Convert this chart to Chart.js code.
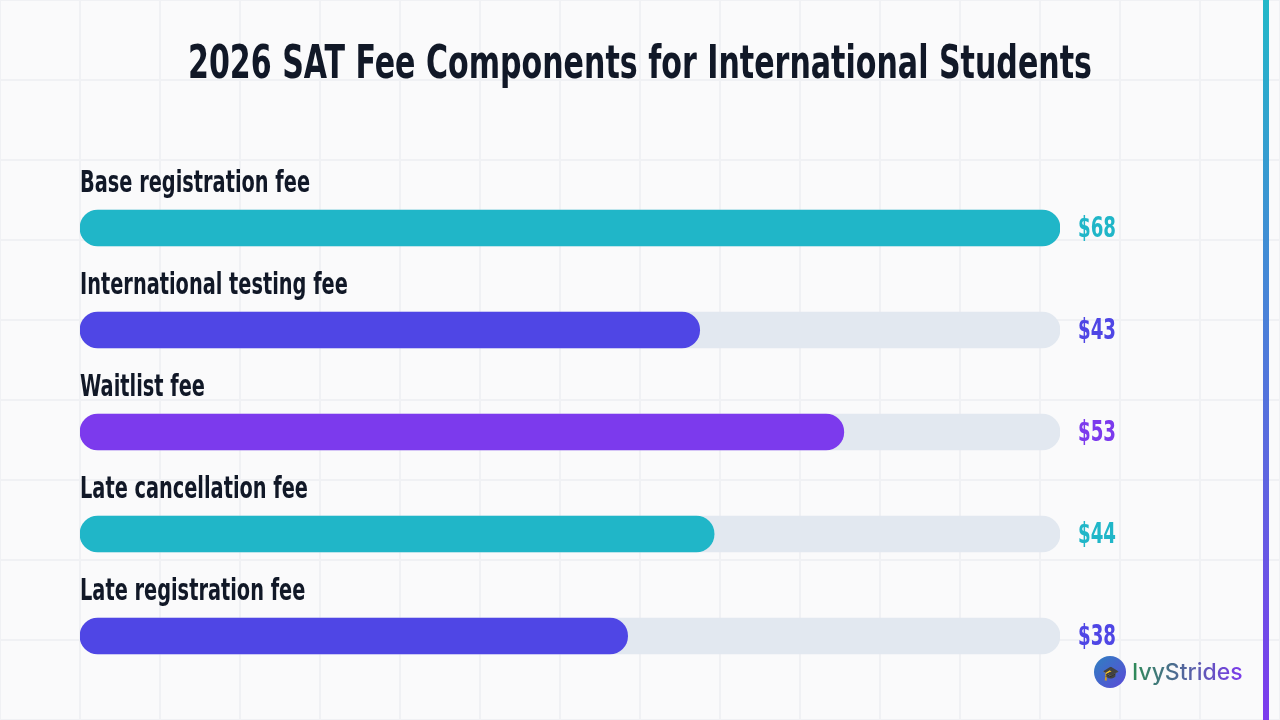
<!DOCTYPE html>
<html><head><meta charset="utf-8">
<script src="https://cdn.jsdelivr.net/npm/chart.js@4"></script>
<style>
html,body{margin:0;padding:0;}
body{width:1280px;height:720px;position:relative;overflow:hidden;background-color:#fafafb;
background-image:linear-gradient(#f0f1f4 2px,transparent 2px),linear-gradient(90deg,#f0f1f4 2px,transparent 2px);
background-size:80px 80px;background-position:-1px -1px;}
#edge{position:absolute;left:1263px;top:0;width:6px;height:720px;background:linear-gradient(#22b8c8,#7c3aed);}
#logo{position:absolute;left:1094px;top:656px;display:flex;align-items:center;font-family:Inter,sans-serif;font-size:23px;font-weight:500;}
#logo .c{width:32px;height:32px;border-radius:50%;background:linear-gradient(135deg,#2f80c0,#5b4ad8);margin-right:6px;color:#fff;font-size:14px;display:flex;align-items:center;justify-content:center;}
#logo .t{background:linear-gradient(90deg,#2e8b57,#7c3aed);-webkit-background-clip:text;color:transparent;}
canvas{position:absolute;left:0;top:0;}
</style></head><body>
<div id="edge"></div>
<canvas id="c" width="1280" height="720"></canvas>
<div id="logo"><div class="c">🎓</div><span class="t">IvyStrides</span></div>
<script>
const title="2026 SAT Fee Components for International Students";
const categories=["Base registration fee","International testing fee","Waitlist fee","Late cancellation fee","Late registration fee"];
const values=[68,43,53,44,38];
const colors=["#20b6c8","#4f46e5","#7c3aed","#20b6c8","#4f46e5"];
const maxValue=68;
const F='"DejaVu Sans Condensed","DejaVu Sans",sans-serif';
function squeezed(ctx,text,x,y,sx){ctx.save();ctx.translate(x,y);ctx.scale(sx,1);ctx.fillText(text,0,0);ctx.restore();}
const labelPlugin={id:'lbl',afterDatasetsDraw(chart){
 const ctx=chart.ctx,ys=chart.scales.y,xs=chart.scales.x;
 ctx.save();
 ctx.font='bold 46px '+F;ctx.fillStyle='#111827';ctx.textAlign='left';ctx.textBaseline='alphabetic';
 const tw=ctx.measureText(title).width,ts=904/tw;
 squeezed(ctx,title,640-452,78,ts);
 ctx.font='bold 31px '+F;
 const ls=230/ctx.measureText(categories[0]).width;
 ctx.font='bold 29px '+F;
 const vs=38/ctx.measureText('$68').width;
 categories.forEach((c,i)=>{
  const y=ys.getPixelForValue(i);
  ctx.font='bold 31px '+F;ctx.fillStyle='#111827';ctx.textBaseline='alphabetic';
  squeezed(ctx,c,xs.left,y-36,ls);
  ctx.fillStyle=colors[i];ctx.font='bold 29px '+F;ctx.textBaseline='middle';
  squeezed(ctx,'$'+values[i],xs.getPixelForValue(maxValue)+18,y+1,vs);
 });
 ctx.restore();}};
new Chart(document.getElementById('c'),{type:'bar',
data:{labels:categories,datasets:[
 {data:values,backgroundColor:colors,barThickness:36,borderRadius:18,borderSkipped:false,grouped:false,order:0},
 {data:categories.map(()=>maxValue),backgroundColor:'#e2e8f0',barThickness:36,borderRadius:18,borderSkipped:false,grouped:false,order:1}
]},
options:{indexAxis:'y',responsive:false,animation:false,
layout:{padding:{left:80,right:220,top:177,bottom:33}},
plugins:{legend:{display:false},tooltip:{enabled:false}},
scales:{x:{display:false,min:0,max:maxValue},y:{display:false}}},
plugins:[labelPlugin]});
</script></body></html>
